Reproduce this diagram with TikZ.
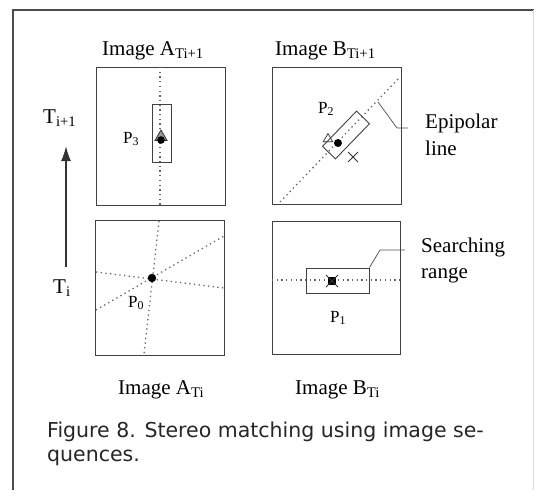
\documentclass[tikz,border=0pt]{standalone}
\usepackage{fontspec}
\setmainfont{Liberation Serif}
\newfontfamily\capfont{DejaVu Sans}
\usetikzlibrary{shapes.geometric,arrows.meta}

\begin{document}
\begin{tikzpicture}[x=1pt,y=-1pt,
  imgbox/.style={draw=black!75,line width=0.9pt},
  epiline/.style={draw=black!60,line width=1.3pt,dash pattern=on 1.3pt off 3.4pt},
  leader/.style={draw=black!70,line width=0.7pt},
  lbl/.style={inner sep=0pt,anchor=base west,font=\fontsize{21}{24}\selectfont},
  ptlbl/.style={inner sep=0pt,anchor=base west,font=\fontsize{17}{19}\selectfont},
  caplbl/.style={inner sep=0pt,anchor=base west,text=black!85,font=\capfont\fontsize{20.5}{24}\selectfont}]

\useasboundingbox (0,0) rectangle (534,490);

% The outer frame of the figure
\draw[black!70,line width=1.6pt] (13,490) -- (13,10) -- (534,10);
\draw[black!15,line width=0.8pt] (533,10) -- (533,490);

% The four image frames
\draw[imgbox] (96,67) rectangle (225,205);
\draw[imgbox] (272,67) rectangle (401,204);
\draw[imgbox] (95,220) rectangle (224,355);
\draw[imgbox] (272,221) rectangle (400,354);

% Titles of the images
\node[lbl] (imgAn) at (102,55) {Image A\textsubscript{Ti+1}};
\node[lbl] (imgBn) at (275,55) {Image B\textsubscript{Ti+1}};
\node[lbl] (imgA) at (118,394) {Image A\textsubscript{Ti}};
\node[lbl] (imgB) at (295,394) {Image B\textsubscript{Ti}};

% The time axis
\node[lbl] (tnext) at (43,123) {T\textsubscript{i+1}};
\node[lbl] (tnow) at (53,293) {T\textsubscript{i}};
\draw[black!80,line width=1.7pt,-{Latex[length=15pt,width=10pt]}] (66,267) -- (66,146);

% Image A at T_i: the point and its dotted lines
\draw[epiline] (159,221) -- (144,354);
\draw[epiline] (96,272) -- (224,288);
\draw[epiline] (96,310) -- (224,236);
\fill[black] (152,278) circle (4.2);
\node[ptlbl] (pzero) at (128,307) {P\textsubscript{0}};

% Image B at T_i: the searching range
\draw[epiline] (272,280) -- (400,280);
\node[draw=black!75,line width=0.9pt,minimum width=63pt,minimum height=25pt,inner sep=0pt] (srange) at (337.5,280.5) {};
\fill[black] (328,277) rectangle (336,285);
\draw[black!80,line width=0.8pt] (326,275) -- (338,287) (326,287) -- (338,275);
\node[ptlbl] (pone) at (330,322) {P\textsubscript{1}};
\draw[leader] (srange.north east) -- (380,250) -- (405,250);
\node[lbl] (srch) at (421,252) {Searching};
\node[lbl] (rng) at (421,278) {range};

% Image B at T_i+1: the epipolar line and the moved window
\draw[epiline] (280,202) -- (400,77);
\node[draw=black!75,line width=0.9pt,minimum width=49pt,minimum height=18pt,inner sep=0pt,rotate=46] (pwin) at (346,135) {};
\node[draw=black!80,line width=0.7pt,regular polygon,regular polygon sides=3,minimum size=11pt,inner sep=0pt] (ptri) at (328,139) {};
\fill[black] (338,143) circle (4);
\draw[black!80,line width=0.8pt] (348,152) -- (358,162) (348,162) -- (358,152);
\node[ptlbl] (ptwo) at (318,113) {P\textsubscript{2}};
\coordinate (epifoot) at (378,102);
\draw[leader] (epifoot) -- (397,128) -- (408,128);
\node[lbl] (epi) at (425,128) {Epipolar};
\node[lbl] (epiln) at (425,155) {line};

% Image A at T_i+1: the tracked point
\draw[epiline] (160,67) -- (160,205);
\draw[black!75,line width=0.9pt] (152,104) rectangle (171,162);
\node[draw=black!80,line width=0.8pt,fill=black!40,regular polygon,regular polygon sides=3,minimum size=14pt,inner sep=0pt] (ptrack) at (161,137) {};
\fill[black] (161,140) circle (3.8);
\node[ptlbl] (pthree) at (123,143) {P\textsubscript{3}};

% The caption
\node[caplbl] (cap1) at (47,437) {Figure 8. Stereo matching using image se-};
\node[caplbl] (cap2) at (47,461) {quences.};

\end{tikzpicture}
\end{document}
